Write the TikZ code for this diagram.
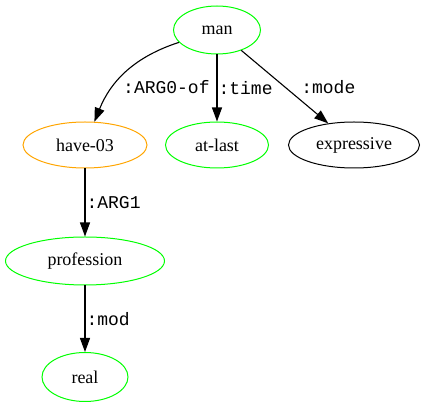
\documentclass[tikz,border=0pt]{standalone}
\usepackage{fontspec}
\setmainfont{Liberation Serif}
\newfontfamily\relfont{Liberation Mono}
\usetikzlibrary{shapes.geometric,arrows.meta}
\definecolor{amrgreen}{RGB}{0,255,0}
\definecolor{amrorange}{RGB}{255,165,0}

\begin{document}
\begin{tikzpicture}[x=1pt,y=1pt,
    concept/.style={ellipse,draw,line width=1pt,inner sep=0pt,
      minimum height=46pt,font=\fontsize{18}{20}\selectfont},
    rel/.style={inner sep=0pt,font=\relfont\fontsize{18}{20}\selectfont},
    link/.style={line width=1.1pt,-{Triangle[length=14pt,width=10pt]}}]
    \useasboundingbox (0,0) rectangle (424,407);

    % Conceptos
    \node[concept,amrgreen,minimum width=87pt,minimum height=48pt] (man) at (217,377) {\color{black}man};
    \node[concept,amrorange,minimum width=124pt] (have) at (85,262) {\color{black}have-03};
    \node[concept,amrgreen,minimum width=103pt] (atlast) at (217,262) {\color{black}at-last};
    \node[concept,black,minimum width=131pt] (expr) at (354,262) {expressive};
    \node[concept,amrgreen,minimum width=159pt,minimum height=48pt] (prof) at (85,146) {\color{black}profession};
    \node[concept,amrgreen,minimum width=86pt,minimum height=49pt] (real) at (85,30) {\color{black}real};

    % Relaciones
    \draw[link] (man) to[out=198,in=68] (have);
    \node[rel,anchor=west] (argof) at (123,320) {:ARG0-of};
    \draw[link] (man) -- (atlast) node[midway,right,rel,xshift=1pt] {:time};
    \draw[link] (man) -- (expr) node[midway,right,rel,xshift=16pt] {:mode};
    \draw[link] (have) -- (prof) node[midway,right,rel,xshift=1pt] {:ARG1};
    \draw[link] (prof) -- (real) node[midway,right,rel,xshift=1pt] {:mod};
\end{tikzpicture}
\end{document}
